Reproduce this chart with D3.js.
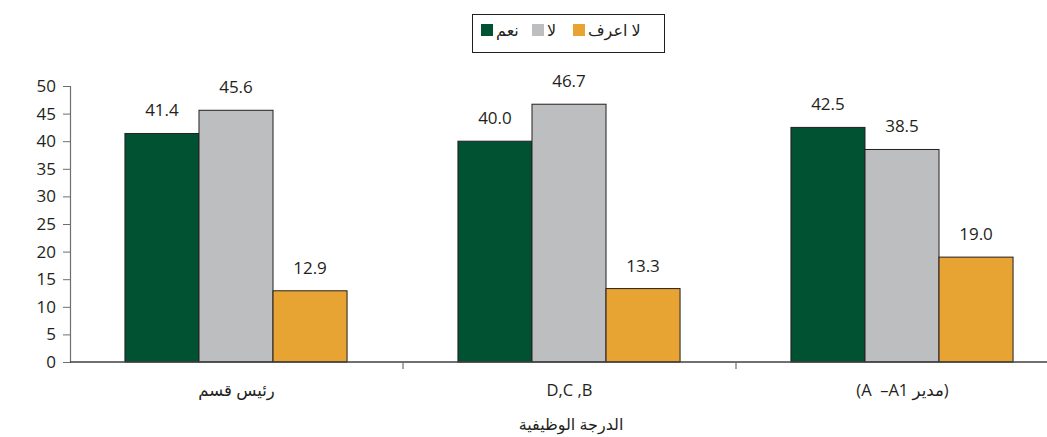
<!DOCTYPE html>
<html>
<head>
<meta charset="utf-8">
<script src="https://cdn.jsdelivr.net/npm/d3@7"></script>
<style>
  html, body { margin: 0; padding: 0; background: #fff; }
  svg text { font-family: "Open Sans", "DejaVu Sans", sans-serif; fill: #231f20; }
</style>
</head>
<body>
<svg id="chart" width="1047" height="437"></svg>
<script>
// Job grade categories (x axis)
const categories = ["رئيس قسم", "D,C\u00A0,B", "(A\u00A0\u00A0–A1 مدير)"];
// Answer series
const seriesNames = ["نعم", "لا", "لا اعرف"];
const seriesColors = ["#005232", "#bcbec0", "#e8a433"];
const yesValues = [41.4, 40.0, 42.5];
const noValues = [45.6, 46.7, 38.5];
const dontKnowValues = [12.9, 13.3, 19.0];
const yTicks = [0, 5, 10, 15, 20, 25, 30, 35, 40, 45, 50];
const xTitle = "الدرجة الوظيفية";

const seriesValues = [yesValues, noValues, dontKnowValues];

const svg = d3.select("#chart");
const plotLeft = 70, plotRight = 1069, plotTop = 86, plotBottom = 362;

const x0 = d3.scaleBand().domain(d3.range(categories.length)).range([plotLeft, plotRight]);
const bw = x0.bandwidth();
const x1 = d3.scaleBand().domain(d3.range(seriesNames.length))
  .range([bw * 0.165, bw * 0.832]);
const y = d3.scaleLinear().domain([0, 50]).range([plotBottom, plotTop]);

// Y axis
const yAxis = svg.append("g")
  .attr("transform", `translate(${plotLeft},0)`)
  .call(d3.axisLeft(y).tickValues(yTicks).tickSize(7).tickPadding(7).tickFormat(d3.format("d")));
yAxis.select(".domain").attr("stroke", "#6d6e71").attr("stroke-width", 1.2);
yAxis.selectAll(".tick line").attr("stroke", "#6d6e71");
yAxis.selectAll(".tick text").attr("font-size", 17).attr("fill", "#231f20")
  .attr("font-family", "'Open Sans', sans-serif");

// Bars
const groups = svg.append("g").selectAll("g")
  .data(categories.map((c, i) => i))
  .join("g")
  .attr("transform", i => `translate(${x0(i)},0)`);

groups.each(function (ci) {
  const g = d3.select(this);
  seriesValues.forEach((vals, si) => {
    const v = vals[ci];
    g.append("rect")
      .attr("x", x1(si))
      .attr("y", y(v))
      .attr("width", x1.bandwidth())
      .attr("height", y(0) - y(v))
      .attr("fill", seriesColors[si])
      .attr("stroke", "#231f20")
      .attr("stroke-width", 1);
    g.append("text")
      .attr("x", x1(si) + x1.bandwidth() / 2)
      .attr("y", y(v) - 17)
      .attr("text-anchor", "middle")
      .attr("font-size", 17)
      .text(v.toFixed(1));
  });
});

// X axis line and group separators
const xAxis = svg.append("g").attr("transform", `translate(0,${plotBottom})`);
xAxis.append("line").attr("x1", plotLeft).attr("x2", plotRight)
  .attr("stroke", "#414042").attr("stroke-width", 1.4);
d3.range(1, categories.length).forEach(i => {
  xAxis.append("line")
    .attr("x1", x0(i)).attr("x2", x0(i))
    .attr("y1", 0).attr("y2", 7)
    .attr("stroke", "#6d6e71").attr("stroke-width", 1.2);
});

// Category labels
categories.forEach((c, i) => {
  svg.append("text")
    .attr("x", x0(i) + bw / 2)
    .attr("y", 396)
    .attr("text-anchor", "middle")
    .attr("direction", "ltr")
    .attr("font-size", 16.5)
    .text(c);
});

// Axis title
svg.append("text")
  .attr("x", 571)
  .attr("y", 430)
  .attr("text-anchor", "middle")
  .attr("font-size", 16)
  .text(xTitle);

// Legend (right-to-left order)
const legend = svg.append("g");
legend.append("rect")
  .attr("x", 472.5).attr("y", 14.5).attr("width", 192).attr("height", 38)
  .attr("fill", "#fff").attr("stroke", "#231f20").attr("stroke-width", 1);
const legendX = [481, 532, 573];
seriesNames.forEach((name, i) => {
  legend.append("rect")
    .attr("x", legendX[i]).attr("y", 24).attr("width", 12).attr("height", 12)
    .attr("fill", seriesColors[i]);
  legend.append("text")
    .attr("x", legendX[i] + 15)
    .attr("y", 36)
    .attr("text-anchor", "start")
    .attr("font-size", 16)
    .text(name);
});
</script>
</body>
</html>
